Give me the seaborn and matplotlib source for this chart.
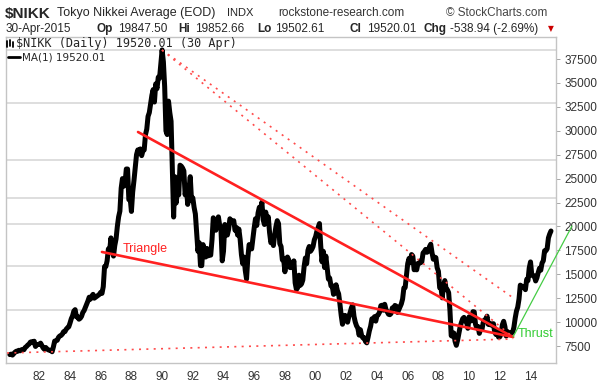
import matplotlib
matplotlib.use("Agg")
import matplotlib.pyplot as plt
import seaborn as sns
import pandas as pd
import numpy as np
from matplotlib.lines import Line2D

# Nikkei 225 monthly closes, Jan 1980 .. Apr 2015
closes_80s = [
    6600, 6650, 6550, 6700, 6850, 6950, 6950, 7050, 7000, 7100, 7150, 7116,
    7350, 7450, 7600, 7700, 7900, 7950, 7850, 8000, 7450, 7650, 7650, 7681,
    7800, 7550, 7300, 7150, 7350, 7200, 7100, 7050, 7050, 6900, 7400, 8016,
    8050, 8100, 8400, 8550, 8600, 8750, 9000, 9000, 9250, 9400, 9500, 9893,
    10350, 10650, 11150, 11300, 10550, 10550, 10300, 10400, 10600, 11000, 11200, 11542,
    11900, 12200, 12600, 12400, 12700, 12900, 12500, 12600, 12700, 12800, 12900, 13113,
    13000, 13700, 15800, 15800, 16400, 17650, 17500, 18800, 17500, 16900, 18000, 18701,
    20000, 21000, 21600, 24000, 25000, 24200, 24500, 26000, 26000, 22800, 23000, 21564,
    23600, 24800, 26200, 27500, 28000, 27700, 28100, 27400, 27900, 28000, 29600, 30159,
    31500, 31900, 32800, 33700, 34300, 33000, 34900, 34400, 35600, 35500, 37000, 38450,
]
closes_90s = [
    37200, 34600, 29980, 29600, 33100, 31900, 31000, 25980, 20980, 25200, 22450, 23849,
    23300, 26400, 26300, 26100, 25800, 23300, 24100, 22300, 23900, 25200, 22700, 22984,
    22000, 21300, 19300, 17400, 18300, 15900, 15900, 18100, 17400, 16800, 17700, 16925,
    17000, 17000, 18600, 20900, 20500, 19600, 20400, 21000, 20100, 19700, 16400, 17417,
    20200, 19100, 19100, 19700, 20800, 20600, 20400, 20600, 19600, 19900, 19100, 19723,
    18650, 17050, 16100, 16800, 15400, 14500, 16700, 18100, 17900, 17650, 18750, 19868,
    20800, 20100, 21400, 22000, 21800, 22530, 20700, 20200, 21500, 20500, 21000, 19361,
    18300, 18550, 18000, 19150, 20000, 20600, 20300, 18200, 17900, 16500, 16600, 15259,
    16600, 16800, 16500, 15700, 15700, 15800, 16400, 14100, 13400, 13600, 14900, 13842,
    14000, 14400, 15800, 16700, 16100, 17500, 17900, 17400, 17600, 17900, 18600, 18934,
]
closes_00s = [
    19500, 19900, 20300, 17970, 16300, 17400, 15700, 16900, 15700, 14500, 14600, 13785,
    13800, 12900, 13000, 13900, 13300, 12950, 11900, 10700, 9770, 10400, 10700, 10542,
    9990, 10600, 11000, 11500, 11800, 10600, 10000, 9600, 9380, 8640, 9200, 8578,
    8340, 8360, 7970, 7830, 8420, 9080, 9560, 10340, 10220, 10560, 10100, 10676,
    10780, 11040, 11720, 11760, 11240, 11860, 11320, 11080, 10820, 10770, 10900, 11488,
    11390, 11740, 11670, 11010, 11280, 11580, 11900, 12410, 13570, 13610, 14870, 16111,
    16650, 16200, 17060, 16900, 15470, 15500, 15460, 16140, 16130, 16400, 16270, 17225,
    17380, 17600, 17290, 17400, 17880, 18140, 17250, 16570, 16790, 16740, 15680, 15307,
    13590, 13600, 12530, 13850, 14340, 13480, 13380, 13070, 11260, 8580, 8510, 8860,
    7990, 7570, 8110, 8830, 9520, 9960, 10360, 10490, 10130, 10030, 9350, 10546,
]
closes_10s = [
    10200, 10130, 11090, 11060, 9770, 9380, 9540, 8820, 9370, 9200, 9940, 10228,
    10240, 10620, 9760, 9850, 9690, 9820, 9830, 8960, 8700, 8990, 8430, 8455,
    8800, 9720, 10080, 9520, 8540, 9010, 8700, 8840, 8870, 8930, 9450, 10395,
    11140, 11560, 12400, 13860, 13770, 13680, 13670, 13390, 14460, 14330, 15660, 16291,
    14910, 14840, 14830, 14300, 14630, 15160, 15620, 15420, 16170, 16410, 17460, 17450,
    17670, 18800, 19210, 19520,
]

# hand-drawn trend lines (decimal year, index level)
triangle_top_x = [1988.43, 2012.86]
triangle_top_y = [29870, 8440]
triangle_bottom_x = [1986.08, 2012.86]
triangle_bottom_y = [17330, 8440]
fan_upper_x = [1989.99, 2012.79]
fan_upper_y = [38440, 12620]
fan_lower_x = [1989.99, 2012.86]
fan_lower_y = [38440, 8440]
base_x = [1979.90, 2012.86]
base_y = [6770, 8230]
thrust_x = [2012.86, 2016.70]
thrust_y = [8440, 20040]

grid_levels = [38440, 32900, 26940, 22970, 20250, 15860, 11260]
y_ticks = list(range(7500, 37501, 2500))
x_years = list(range(1982, 2015, 2))
x_labels = [f"{y % 100:02d}" for y in x_years]

closes = closes_80s + closes_90s + closes_00s + closes_10s
dates = pd.date_range("1980-01-31", periods=len(closes), freq="ME")
df = pd.DataFrame({"t": dates.year + dates.month / 12.0, "close": closes})

sns.set_style("white")
plt.rcParams["font.family"] = ["Liberation Sans", "DejaVu Sans"]

fig = plt.figure(figsize=(6, 3.84), dpi=100)
ax = fig.add_axes([6 / 600, 1 - 363 / 384, 550 / 600, 326 / 384])

for g in grid_levels:
    ax.axhline(g, color="#d4d4d4", lw=1.1, zorder=0)

sns.lineplot(data=df, x="t", y="close", ax=ax, color="black", lw=3.6, zorder=3)

red = "#ff2020"
ax.plot(triangle_top_x, triangle_top_y, color=red, lw=1.9, zorder=4, solid_capstyle="round")
ax.plot(triangle_bottom_x, triangle_bottom_y, color=red, lw=1.9, zorder=4, solid_capstyle="round")
for xs, ys in [(fan_upper_x, fan_upper_y), (fan_lower_x, fan_lower_y), (base_x, base_y)]:
    ax.plot(xs, ys, color="#ff4a4a", lw=1.2, ls=(0, (1.2, 3.2)), zorder=4)
ax.plot(thrust_x, thrust_y, color="#44cc44", lw=0.9, zorder=4, clip_on=False)

ax.text(1987.45, 17640, "Triangle", color=red, fontsize=9, va="center", ha="left", zorder=5)
ax.text(2013.15, 8750, "Thrust", color="#33cc33", fontsize=9, va="center", ha="left", zorder=5)

ax.set_xlim(1979.83, 2015.66)
ax.set_ylim(5723, 39800)
ax.set_xticks(x_years)
ax.set_xticklabels(x_labels)
ax.set_yticks(y_ticks)
ax.yaxis.tick_right()
ax.tick_params(axis="y", length=3, width=0.6, color="#999999", labelsize=8.5,
               labelcolor="#333333", pad=3)
ax.tick_params(axis="x", length=0, labelsize=8.5, labelcolor="#333333", pad=6)
ax.set_xlabel("")
ax.set_ylabel("")
for s in ax.spines.values():
    s.set_color("#c4c4c4")
    s.set_linewidth(1.0)


def px(x, y):
    return x / 600, 1 - y / 384


# header row 1
fig.text(*px(5, 14), "$NIKK", fontsize=11, fontweight="bold", va="center")
fig.text(*px(57, 13), "Tokyo Nikkei Average (EOD)", fontsize=9, va="center")
fig.text(*px(227, 13), "INDX", fontsize=8, va="center")
fig.text(*px(278, 13), "rockstone-research.com", fontsize=8.5, va="center", color="#333333")
fig.text(*px(446, 13), "© StockCharts.com", fontsize=8.5, va="center", color="#444444")

# header row 2
row2 = [(6, "30-Apr-2015", "normal"), (97, "Op", "bold"), (118, "19847.50", "normal"),
        (178, "Hi", "bold"), (195, "19852.66", "normal"), (257, "Lo", "bold"),
        (275, "19502.61", "normal"), (350, "Cl", "bold"), (367, "19520.01", "normal"),
        (423, "Chg", "bold"), (450, "-538.94 (-2.69%)", "normal")]
for x, s, w in row2:
    fig.text(*px(x, 29), s, fontsize=8.5, fontweight=w, va="center")
fig.text(*px(548, 29), "▼", fontsize=5.5, color="#cc0000", va="center",
         family=["DejaVu Sans"])

# in-chart legend
fig.text(*px(16, 44), "$NIKK (Daily) 19520.01 (30 Apr)", fontsize=8.5,
         va="center", family=["DejaVu Sans Mono"])
fig.text(*px(22, 57), "MA(1) 19520.01", fontsize=7.5, va="center", family=["DejaVu Sans"])
fig.add_artist(Line2D([8 / 600, 20 / 600], [1 - 57 / 384] * 2, color="black", lw=2))
for dx, y0, y1 in [(7, 41, 47), (10, 40, 46), (13, 42, 47)]:
    fig.add_artist(Line2D([dx / 600] * 2, [1 - y0 / 384, 1 - y1 / 384], color="black", lw=1.3))

fig.savefig("out.png", dpi=100)
